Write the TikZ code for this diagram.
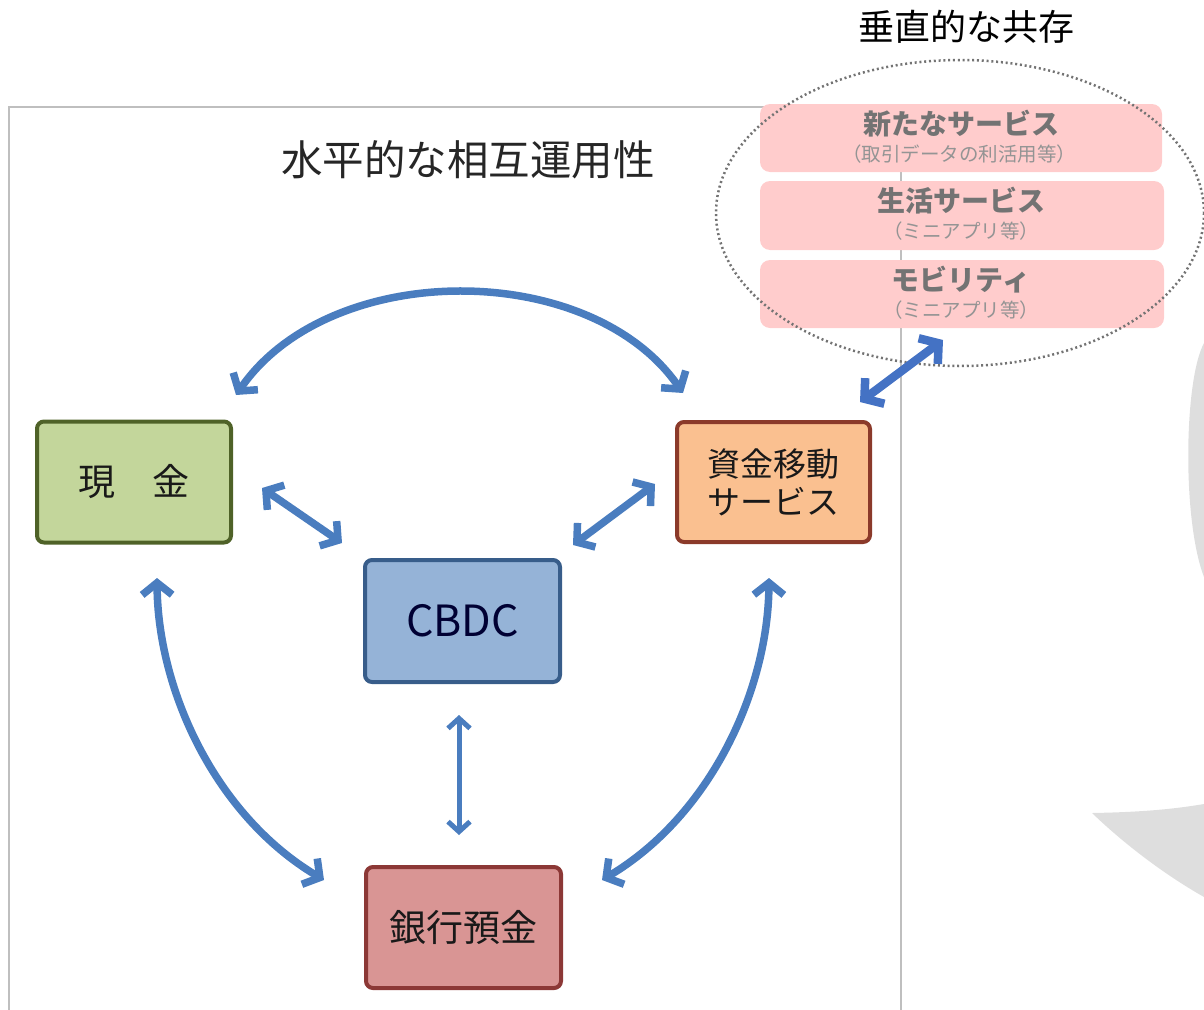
\documentclass[tikz,border=0pt]{standalone}
\usepackage{fontspec}
\setmainfont{Noto Sans CJK JP}
\usetikzlibrary{arrows.meta}
\definecolor{arrowblue}{HTML}{4A7DBF}
\definecolor{brightblue}{HTML}{4472C4}
\definecolor{framegray}{HTML}{BFBFBF}
\definecolor{shadegray}{HTML}{DEDEDE}
\definecolor{pinkfill}{HTML}{FFCCCC}
\definecolor{cashfill}{HTML}{C3D69B}
\definecolor{cashdraw}{HTML}{4F6228}
\definecolor{fundfill}{HTML}{FAC090}
\definecolor{funddraw}{HTML}{8B3A2A}
\definecolor{cbdcfill}{HTML}{95B3D7}
\definecolor{cbdcdraw}{HTML}{385D8A}
\definecolor{bankfill}{HTML}{D99594}
\definecolor{bankdraw}{HTML}{8C3836}
\tikzset{
  mainbox/.style={rectangle, rounded corners=7pt, line width=4pt, inner sep=0pt,
    minimum width=194pt, minimum height=121pt, align=center, text=black!90},
  pinkbox/.style={rectangle, rounded corners=10pt, fill=pinkfill, inner sep=0pt,
    minimum width=404pt, minimum height=68pt},
  dblarrow/.style={arrowblue, line width=7.5pt,
    {Straight Barb[length=12pt,width=30pt]}-{Straight Barb[length=12pt,width=30pt]}},
  thinarrow/.style={arrowblue, line width=5pt,
    {Straight Barb[length=10pt,width=22pt]}-{Straight Barb[length=10pt,width=22pt]}},
  brightarrow/.style={brightblue, line width=8.5pt,
    {Straight Barb[length=13pt,width=32pt]}-{Straight Barb[length=13pt,width=32pt]}},
  headtext/.style={text=black!55, font=\fontsize{28}{30}\selectfont\bfseries},
  subtext/.style={text=black!42, font=\fontsize{19.5}{21}\selectfont},
}
\begin{document}
\begin{tikzpicture}[x=1pt,y=-1pt]
\useasboundingbox (0,0) rectangle (1204,1009);
\clip (0,0) rectangle (1204,1009);
% gray curved arrow pieces at right
\fill[shadegray] (1204,343) .. controls (1184,380) and (1182,520) .. (1204,577) -- (1215,577) -- (1215,343) -- cycle;
\fill[shadegray] (1092,813) .. controls (1150,812) and (1180,808) .. (1204,804) -- (1215,804) -- (1215,900) -- (1204,897) .. controls (1160,872) and (1120,840) .. (1092,813) -- cycle;
% frame
\draw[framegray, line width=1.5pt] (9,1015) -- (9,107) -- (901,107) -- (901,1015);
% titles
\node[font=\fontsize{41.5}{43}\selectfont, text=black!85] (htitle) at (468,160) {水平的な相互運用性};
\node[font=\fontsize{36}{38}\selectfont, text=black] (vtitle) at (966,27) {垂直的な共存};
% pink service boxes
\node[pinkbox, minimum width=402pt] (svc1) at (961,138) {};
\node[pinkbox, minimum height=69pt] (svc2) at (962,215.5) {};
\node[pinkbox] (svc3) at (962,294) {};
\node[headtext] (svc1h) at (961,124) {新たなサービス};
\node[subtext] (svc1s) at (959,154) {（取引データの利活用等）};
\node[headtext] (svc2h) at (961,201) {生活サービス};
\node[subtext] (svc2s) at (961,231) {（ミニアプリ等）};
\node[headtext] (svc3h) at (961,280) {モビリティ};
\node[subtext] (svc3s) at (961,310) {（ミニアプリ等）};
% dotted ellipse
\draw[black!55, line width=2.5pt, dash pattern=on 2pt off 2.8pt] (960,213) ellipse [x radius=244, y radius=153];
% main boxes
\node[mainbox, fill=cashfill, draw=cashdraw, font=\fontsize{37}{40}\selectfont] (cash) at (134,482) {現　金};
\node[mainbox, fill=fundfill, draw=funddraw, minimum width=193pt, minimum height=120pt, font=\fontsize{33}{38}\selectfont] (fund) at (773.5,482) {資金移動\\サービス};
\node[mainbox, fill=cbdcfill, draw=cbdcdraw, minimum width=195pt, minimum height=122pt, text=black!80!blue, font=\fontsize{43}{45}\selectfont] (cbdc) at (462.5,621) {CBDC};
\node[mainbox, fill=bankfill, draw=bankdraw, minimum width=195pt, font=\fontsize{37}{40}\selectfont] (bank) at (463.5,927.5) {銀行預金};
% arrow end points
\coordinate (topL) at (236,395);
\coordinate (topR) at (683,393);
\coordinate (cashC) at (262,488);
\coordinate (cbdcL) at (342,543);
\coordinate (fundC) at (655,484);
\coordinate (cbdcR) at (573,545);
\coordinate (cbdcB) at (459,715);
\coordinate (bankT) at (459,835);
\coordinate (cashB) at (157,578);
\coordinate (bankL) at (324,880);
\coordinate (fundB) at (769,578);
\coordinate (bankR) at (602,880);
\coordinate (fundNE) at (860,402);
\coordinate (svcSW) at (943,340);
% arrows
\draw[dblarrow] (topL) .. controls (330,259) and (590,259) .. (topR);
\draw[dblarrow] (cashC) -- (cbdcL);
\draw[dblarrow] (fundC) -- (cbdcR);
\draw[thinarrow] (cbdcB) -- (bankT);
\draw[dblarrow] (cashB) .. controls (158,690) and (215,815) .. (bankL);
\draw[dblarrow] (fundB) .. controls (768,690) and (711,815) .. (bankR);
\draw[brightarrow] (fundNE) -- (svcSW);
\end{tikzpicture}
\end{document}
